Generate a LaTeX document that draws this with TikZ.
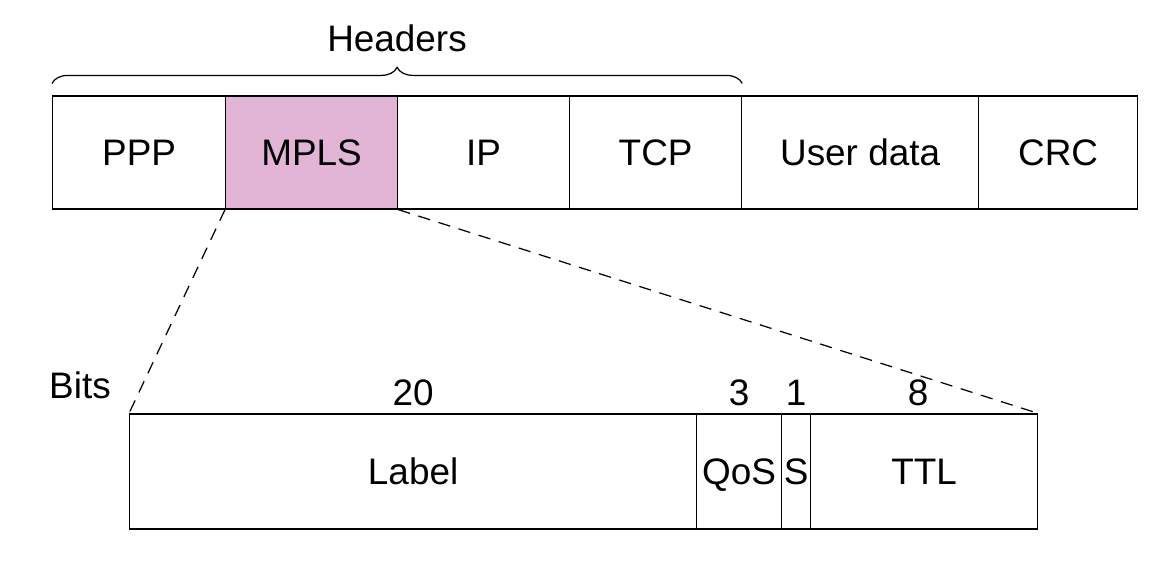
\documentclass[tikz,border=0pt]{standalone}
\usepackage{fontspec}
\setmainfont{Liberation Sans}
\usetikzlibrary{decorations.pathreplacing}
\definecolor{mplspink}{RGB}{226,180,214}
\begin{document}
\begin{tikzpicture}[x=0.02cm,y=-0.02cm,line width=0.7pt,
    every node/.style={font=\fontsize{21}{25}\selectfont},
    field/.style={draw=black,rectangle,inner sep=0pt,anchor=west,
                  text height=15pt,text depth=0pt}]
    \useasboundingbox (0,0) rectangle (1170,576);

    % the frame with its headers
    \foreach \name/\xa/\xb/\fc/\txt in {
        ppp/52/225/white/PPP,
        mpls/225/397/mplspink/MPLS,
        ip/397/569/white/IP,
        tcp/569/741/white/TCP,
        data/741/978/white/User data,
        crc/978/1137/white/CRC}
    \node[field,fill=\fc,minimum height=2.26cm,
          minimum width={(\xb-\xa)*0.02cm}] (\name) at (\xa,152.5) {\txt};

    % brace over the headers
    \draw[decorate,decoration={brace,amplitude=0.32cm}]
        (ppp.north west) ++(0,-12) coordinate (bl) -- (tcp.north east |- bl);
    \node (headers) at (397,38) {Headers};

    % the MPLS header, bit by bit
    \foreach \name/\xa/\xb/\txt in {
        label/129/696/Label,
        qos/696/781/QoS,
        s/781/810/S,
        ttl/810/1037/TTL}
    \node[field,minimum height=2.3cm,
          minimum width={(\xb-\xa)*0.02cm}] (\name) at (\xa,471.5) {\txt};

    % the number of bits
    \node[anchor=south,inner sep=4pt] (n20) at (label.north) {20};
    \node[anchor=south,inner sep=4pt] (n3) at (qos.north) {3};
    \node[anchor=south,inner sep=4pt] (n1) at (s.north) {1};
    \node[anchor=south,inner sep=4pt] (n8) at ([xshift=-0.12cm]ttl.north) {8};
    \node (bits) at (80,385) {Bits};

    % zoom lines
    \draw[dashed,dash pattern=on 7pt off 5pt] (mpls.south west) -- (label.north west);
    \draw[dashed,dash pattern=on 7pt off 5pt] (mpls.south east) -- (ttl.north east);
\end{tikzpicture}
\end{document}
